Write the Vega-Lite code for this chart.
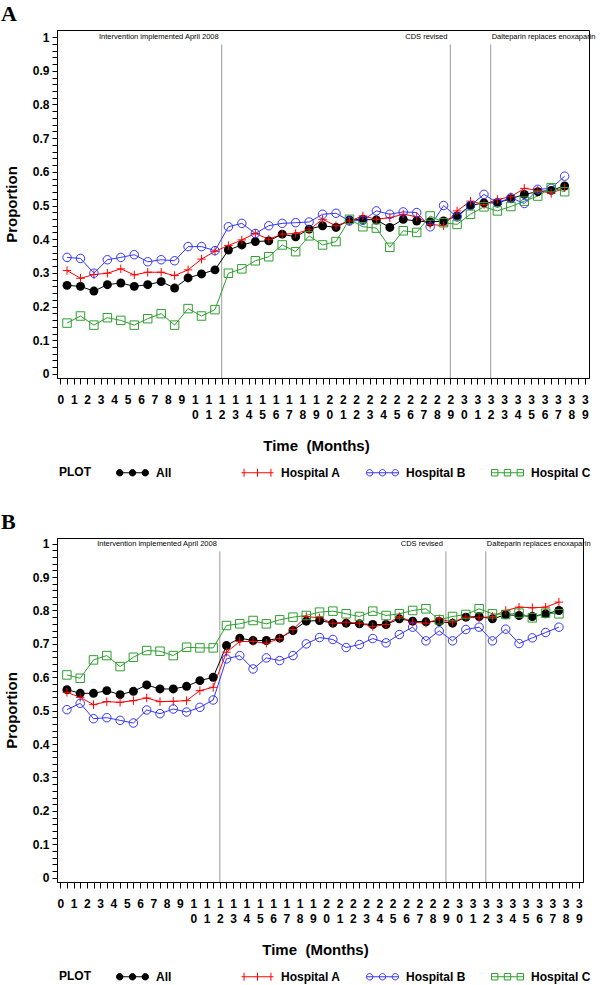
{
  "$schema": "https://vega.github.io/schema/vega-lite/v6.json",
  "background": "white",
  "padding": {"left": 0, "top": 2, "right": 0, "bottom": 0},
  "spacing": 30,
  "config": {
    "view": {"stroke": "black", "strokeWidth": 1},
    "font": "Liberation Sans, Arial, Helvetica, sans-serif",
    "text": {"font": "Liberation Sans, Arial, Helvetica, sans-serif"},
    "axis": {"domainColor": "black", "tickColor": "black", "labelColor": "black", "titleColor": "black", "labelFont": "Liberation Sans, Arial, Helvetica, sans-serif", "titleFont": "Liberation Sans, Arial, Helvetica, sans-serif", "labelFontWeight": "bold", "titleFontWeight": "bold", "labelFontSize": 12, "titleFontSize": 15, "grid": false, "labelOverlap": false, "labelFlush": false, "labelBound": false},
    "legend": {"labelFont": "Liberation Sans, Arial, Helvetica, sans-serif", "titleFont": "Liberation Sans, Arial, Helvetica, sans-serif"}
  },
  "resolve": {"scale": {"x": "independent", "y": "independent", "color": "independent", "shape": "independent"}, "legend": {"color": "independent", "shape": "independent"}},
  "datasets": {
    "events": [
      {"month": 12, "event": "Intervention implemented April 2008"},
      {"month": 29, "event": "CDS revised"},
      {"month": 32, "event": "Dalteparin replaces enoxaparin"}
    ],
    "a": [
      {"series":"All","month":0.5,"proportion":0.263},{"series":"All","month":1.5,"proportion":0.260},{"series":"All","month":2.5,"proportion":0.246},{"series":"All","month":3.5,"proportion":0.265},{"series":"All","month":4.5,"proportion":0.270},{"series":"All","month":5.5,"proportion":0.260},{"series":"All","month":6.5,"proportion":0.265},{"series":"All","month":7.5,"proportion":0.274},{"series":"All","month":8.5,"proportion":0.255},{"series":"All","month":9.5,"proportion":0.285},{"series":"All","month":10.5,"proportion":0.297},{"series":"All","month":11.5,"proportion":0.309},{"series":"All","month":12.5,"proportion":0.368},{"series":"All","month":13.5,"proportion":0.383},{"series":"All","month":14.5,"proportion":0.393},{"series":"All","month":15.5,"proportion":0.395},{"series":"All","month":16.5,"proportion":0.415},{"series":"All","month":17.5,"proportion":0.407},{"series":"All","month":18.5,"proportion":0.430},{"series":"All","month":19.5,"proportion":0.440},{"series":"All","month":20.5,"proportion":0.435},{"series":"All","month":21.5,"proportion":0.457},{"series":"All","month":22.5,"proportion":0.459},{"series":"All","month":23.5,"proportion":0.457},{"series":"All","month":24.5,"proportion":0.435},{"series":"All","month":25.5,"proportion":0.459},{"series":"All","month":26.5,"proportion":0.454},{"series":"All","month":27.5,"proportion":0.451},{"series":"All","month":28.5,"proportion":0.454},{"series":"All","month":29.5,"proportion":0.469},{"series":"All","month":30.5,"proportion":0.500},{"series":"All","month":31.5,"proportion":0.508},{"series":"All","month":32.5,"proportion":0.508},{"series":"All","month":33.5,"proportion":0.520},{"series":"All","month":34.5,"proportion":0.533},{"series":"All","month":35.5,"proportion":0.541},{"series":"All","month":36.5,"proportion":0.545},{"series":"All","month":37.5,"proportion":0.558},
      {"series":"Hospital A","month":0.5,"proportion":0.307},{"series":"Hospital A","month":1.5,"proportion":0.284},{"series":"Hospital A","month":2.5,"proportion":0.295},{"series":"Hospital A","month":3.5,"proportion":0.299},{"series":"Hospital A","month":4.5,"proportion":0.312},{"series":"Hospital A","month":5.5,"proportion":0.294},{"series":"Hospital A","month":6.5,"proportion":0.302},{"series":"Hospital A","month":7.5,"proportion":0.302},{"series":"Hospital A","month":8.5,"proportion":0.292},{"series":"Hospital A","month":9.5,"proportion":0.309},{"series":"Hospital A","month":10.5,"proportion":0.341},{"series":"Hospital A","month":11.5,"proportion":0.364},{"series":"Hospital A","month":12.5,"proportion":0.381},{"series":"Hospital A","month":13.5,"proportion":0.398},{"series":"Hospital A","month":14.5,"proportion":0.417},{"series":"Hospital A","month":15.5,"proportion":0.400},{"series":"Hospital A","month":16.5,"proportion":0.415},{"series":"Hospital A","month":17.5,"proportion":0.417},{"series":"Hospital A","month":18.5,"proportion":0.428},{"series":"Hospital A","month":19.5,"proportion":0.459},{"series":"Hospital A","month":20.5,"proportion":0.440},{"series":"Hospital A","month":21.5,"proportion":0.454},{"series":"Hospital A","month":22.5,"proportion":0.469},{"series":"Hospital A","month":23.5,"proportion":0.459},{"series":"Hospital A","month":24.5,"proportion":0.464},{"series":"Hospital A","month":25.5,"proportion":0.474},{"series":"Hospital A","month":26.5,"proportion":0.467},{"series":"Hospital A","month":27.5,"proportion":0.444},{"series":"Hospital A","month":28.5,"proportion":0.440},{"series":"Hospital A","month":29.5,"proportion":0.484},{"series":"Hospital A","month":30.5,"proportion":0.513},{"series":"Hospital A","month":31.5,"proportion":0.503},{"series":"Hospital A","month":32.5,"proportion":0.518},{"series":"Hospital A","month":33.5,"proportion":0.526},{"series":"Hospital A","month":34.5,"proportion":0.551},{"series":"Hospital A","month":35.5,"proportion":0.545},{"series":"Hospital A","month":36.5,"proportion":0.536},{"series":"Hospital A","month":37.5,"proportion":0.553},
      {"series":"Hospital B","month":0.5,"proportion":0.346},{"series":"Hospital B","month":1.5,"proportion":0.343},{"series":"Hospital B","month":2.5,"proportion":0.299},{"series":"Hospital B","month":3.5,"proportion":0.339},{"series":"Hospital B","month":4.5,"proportion":0.346},{"series":"Hospital B","month":5.5,"proportion":0.354},{"series":"Hospital B","month":6.5,"proportion":0.333},{"series":"Hospital B","month":7.5,"proportion":0.339},{"series":"Hospital B","month":8.5,"proportion":0.336},{"series":"Hospital B","month":9.5,"proportion":0.378},{"series":"Hospital B","month":10.5,"proportion":0.378},{"series":"Hospital B","month":11.5,"proportion":0.366},{"series":"Hospital B","month":12.5,"proportion":0.437},{"series":"Hospital B","month":13.5,"proportion":0.447},{"series":"Hospital B","month":14.5,"proportion":0.417},{"series":"Hospital B","month":15.5,"proportion":0.440},{"series":"Hospital B","month":16.5,"proportion":0.447},{"series":"Hospital B","month":17.5,"proportion":0.449},{"series":"Hospital B","month":18.5,"proportion":0.451},{"series":"Hospital B","month":19.5,"proportion":0.474},{"series":"Hospital B","month":20.5,"proportion":0.477},{"series":"Hospital B","month":21.5,"proportion":0.454},{"series":"Hospital B","month":22.5,"proportion":0.456},{"series":"Hospital B","month":23.5,"proportion":0.484},{"series":"Hospital B","month":24.5,"proportion":0.474},{"series":"Hospital B","month":25.5,"proportion":0.481},{"series":"Hospital B","month":26.5,"proportion":0.479},{"series":"Hospital B","month":27.5,"proportion":0.437},{"series":"Hospital B","month":28.5,"proportion":0.500},{"series":"Hospital B","month":29.5,"proportion":0.466},{"series":"Hospital B","month":30.5,"proportion":0.500},{"series":"Hospital B","month":31.5,"proportion":0.533},{"series":"Hospital B","month":32.5,"proportion":0.508},{"series":"Hospital B","month":33.5,"proportion":0.523},{"series":"Hospital B","month":34.5,"proportion":0.506},{"series":"Hospital B","month":35.5,"proportion":0.548},{"series":"Hospital B","month":36.5,"proportion":0.551},{"series":"Hospital B","month":37.5,"proportion":0.587},
      {"series":"Hospital C","month":0.5,"proportion":0.151},{"series":"Hospital C","month":1.5,"proportion":0.172},{"series":"Hospital C","month":2.5,"proportion":0.145},{"series":"Hospital C","month":3.5,"proportion":0.167},{"series":"Hospital C","month":4.5,"proportion":0.159},{"series":"Hospital C","month":5.5,"proportion":0.145},{"series":"Hospital C","month":6.5,"proportion":0.164},{"series":"Hospital C","month":7.5,"proportion":0.179},{"series":"Hospital C","month":8.5,"proportion":0.145},{"series":"Hospital C","month":9.5,"proportion":0.194},{"series":"Hospital C","month":10.5,"proportion":0.172},{"series":"Hospital C","month":11.5,"proportion":0.191},{"series":"Hospital C","month":12.5,"proportion":0.299},{"series":"Hospital C","month":13.5,"proportion":0.312},{"series":"Hospital C","month":14.5,"proportion":0.336},{"series":"Hospital C","month":15.5,"proportion":0.348},{"series":"Hospital C","month":16.5,"proportion":0.383},{"series":"Hospital C","month":17.5,"proportion":0.363},{"series":"Hospital C","month":18.5,"proportion":0.410},{"series":"Hospital C","month":19.5,"proportion":0.383},{"series":"Hospital C","month":20.5,"proportion":0.393},{"series":"Hospital C","month":21.5,"proportion":0.459},{"series":"Hospital C","month":22.5,"proportion":0.437},{"series":"Hospital C","month":23.5,"proportion":0.433},{"series":"Hospital C","month":24.5,"proportion":0.376},{"series":"Hospital C","month":25.5,"proportion":0.425},{"series":"Hospital C","month":26.5,"proportion":0.420},{"series":"Hospital C","month":27.5,"proportion":0.469},{"series":"Hospital C","month":28.5,"proportion":0.449},{"series":"Hospital C","month":29.5,"proportion":0.444},{"series":"Hospital C","month":30.5,"proportion":0.474},{"series":"Hospital C","month":31.5,"proportion":0.496},{"series":"Hospital C","month":32.5,"proportion":0.484},{"series":"Hospital C","month":33.5,"proportion":0.497},{"series":"Hospital C","month":34.5,"proportion":0.513},{"series":"Hospital C","month":35.5,"proportion":0.528},{"series":"Hospital C","month":36.5,"proportion":0.553},{"series":"Hospital C","month":37.5,"proportion":0.541}
    ],
    "b": [
      {"series":"All","month":0.5,"proportion":0.563},{"series":"All","month":1.5,"proportion":0.552},{"series":"All","month":2.5,"proportion":0.552},{"series":"All","month":3.5,"proportion":0.560},{"series":"All","month":4.5,"proportion":0.548},{"series":"All","month":5.5,"proportion":0.558},{"series":"All","month":6.5,"proportion":0.577},{"series":"All","month":7.5,"proportion":0.565},{"series":"All","month":8.5,"proportion":0.565},{"series":"All","month":9.5,"proportion":0.573},{"series":"All","month":10.5,"proportion":0.590},{"series":"All","month":11.5,"proportion":0.600},{"series":"All","month":12.5,"proportion":0.695},{"series":"All","month":13.5,"proportion":0.717},{"series":"All","month":14.5,"proportion":0.710},{"series":"All","month":15.5,"proportion":0.710},{"series":"All","month":16.5,"proportion":0.717},{"series":"All","month":17.5,"proportion":0.740},{"series":"All","month":18.5,"proportion":0.768},{"series":"All","month":19.5,"proportion":0.770},{"series":"All","month":20.5,"proportion":0.762},{"series":"All","month":21.5,"proportion":0.762},{"series":"All","month":22.5,"proportion":0.760},{"series":"All","month":23.5,"proportion":0.758},{"series":"All","month":24.5,"proportion":0.758},{"series":"All","month":25.5,"proportion":0.775},{"series":"All","month":26.5,"proportion":0.768},{"series":"All","month":27.5,"proportion":0.766},{"series":"All","month":28.5,"proportion":0.767},{"series":"All","month":29.5,"proportion":0.762},{"series":"All","month":30.5,"proportion":0.780},{"series":"All","month":31.5,"proportion":0.782},{"series":"All","month":32.5,"proportion":0.775},{"series":"All","month":33.5,"proportion":0.787},{"series":"All","month":34.5,"proportion":0.785},{"series":"All","month":35.5,"proportion":0.782},{"series":"All","month":36.5,"proportion":0.790},{"series":"All","month":37.5,"proportion":0.800},
      {"series":"Hospital A","month":0.5,"proportion":0.555},{"series":"Hospital A","month":1.5,"proportion":0.540},{"series":"Hospital A","month":2.5,"proportion":0.518},{"series":"Hospital A","month":3.5,"proportion":0.527},{"series":"Hospital A","month":4.5,"proportion":0.525},{"series":"Hospital A","month":5.5,"proportion":0.530},{"series":"Hospital A","month":6.5,"proportion":0.538},{"series":"Hospital A","month":7.5,"proportion":0.527},{"series":"Hospital A","month":8.5,"proportion":0.528},{"series":"Hospital A","month":9.5,"proportion":0.530},{"series":"Hospital A","month":10.5,"proportion":0.560},{"series":"Hospital A","month":11.5,"proportion":0.570},{"series":"Hospital A","month":12.5,"proportion":0.675},{"series":"Hospital A","month":13.5,"proportion":0.707},{"series":"Hospital A","month":14.5,"proportion":0.707},{"series":"Hospital A","month":15.5,"proportion":0.702},{"series":"Hospital A","month":16.5,"proportion":0.716},{"series":"Hospital A","month":17.5,"proportion":0.743},{"series":"Hospital A","month":18.5,"proportion":0.782},{"series":"Hospital A","month":19.5,"proportion":0.778},{"series":"Hospital A","month":20.5,"proportion":0.762},{"series":"Hospital A","month":21.5,"proportion":0.765},{"series":"Hospital A","month":22.5,"proportion":0.762},{"series":"Hospital A","month":23.5,"proportion":0.752},{"series":"Hospital A","month":24.5,"proportion":0.758},{"series":"Hospital A","month":25.5,"proportion":0.782},{"series":"Hospital A","month":26.5,"proportion":0.765},{"series":"Hospital A","month":27.5,"proportion":0.762},{"series":"Hospital A","month":28.5,"proportion":0.775},{"series":"Hospital A","month":29.5,"proportion":0.765},{"series":"Hospital A","month":30.5,"proportion":0.780},{"series":"Hospital A","month":31.5,"proportion":0.778},{"series":"Hospital A","month":32.5,"proportion":0.782},{"series":"Hospital A","month":33.5,"proportion":0.800},{"series":"Hospital A","month":34.5,"proportion":0.810},{"series":"Hospital A","month":35.5,"proportion":0.808},{"series":"Hospital A","month":36.5,"proportion":0.810},{"series":"Hospital A","month":37.5,"proportion":0.825},
      {"series":"Hospital B","month":0.5,"proportion":0.503},{"series":"Hospital B","month":1.5,"proportion":0.522},{"series":"Hospital B","month":2.5,"proportion":0.476},{"series":"Hospital B","month":3.5,"proportion":0.479},{"series":"Hospital B","month":4.5,"proportion":0.471},{"series":"Hospital B","month":5.5,"proportion":0.463},{"series":"Hospital B","month":6.5,"proportion":0.502},{"series":"Hospital B","month":7.5,"proportion":0.491},{"series":"Hospital B","month":8.5,"proportion":0.505},{"series":"Hospital B","month":9.5,"proportion":0.496},{"series":"Hospital B","month":10.5,"proportion":0.510},{"series":"Hospital B","month":11.5,"proportion":0.532},{"series":"Hospital B","month":12.5,"proportion":0.655},{"series":"Hospital B","month":13.5,"proportion":0.665},{"series":"Hospital B","month":14.5,"proportion":0.625},{"series":"Hospital B","month":15.5,"proportion":0.658},{"series":"Hospital B","month":16.5,"proportion":0.650},{"series":"Hospital B","month":17.5,"proportion":0.665},{"series":"Hospital B","month":18.5,"proportion":0.700},{"series":"Hospital B","month":19.5,"proportion":0.719},{"series":"Hospital B","month":20.5,"proportion":0.713},{"series":"Hospital B","month":21.5,"proportion":0.689},{"series":"Hospital B","month":22.5,"proportion":0.698},{"series":"Hospital B","month":23.5,"proportion":0.716},{"series":"Hospital B","month":24.5,"proportion":0.703},{"series":"Hospital B","month":25.5,"proportion":0.728},{"series":"Hospital B","month":26.5,"proportion":0.750},{"series":"Hospital B","month":27.5,"proportion":0.709},{"series":"Hospital B","month":28.5,"proportion":0.739},{"series":"Hospital B","month":29.5,"proportion":0.709},{"series":"Hospital B","month":30.5,"proportion":0.743},{"series":"Hospital B","month":31.5,"proportion":0.750},{"series":"Hospital B","month":32.5,"proportion":0.709},{"series":"Hospital B","month":33.5,"proportion":0.744},{"series":"Hospital B","month":34.5,"proportion":0.701},{"series":"Hospital B","month":35.5,"proportion":0.718},{"series":"Hospital B","month":36.5,"proportion":0.734},{"series":"Hospital B","month":37.5,"proportion":0.750},
      {"series":"Hospital C","month":0.5,"proportion":0.607},{"series":"Hospital C","month":1.5,"proportion":0.597},{"series":"Hospital C","month":2.5,"proportion":0.652},{"series":"Hospital C","month":3.5,"proportion":0.665},{"series":"Hospital C","month":4.5,"proportion":0.632},{"series":"Hospital C","month":5.5,"proportion":0.660},{"series":"Hospital C","month":6.5,"proportion":0.680},{"series":"Hospital C","month":7.5,"proportion":0.678},{"series":"Hospital C","month":8.5,"proportion":0.665},{"series":"Hospital C","month":9.5,"proportion":0.690},{"series":"Hospital C","month":10.5,"proportion":0.688},{"series":"Hospital C","month":11.5,"proportion":0.688},{"series":"Hospital C","month":12.5,"proportion":0.755},{"series":"Hospital C","month":13.5,"proportion":0.760},{"series":"Hospital C","month":14.5,"proportion":0.770},{"series":"Hospital C","month":15.5,"proportion":0.760},{"series":"Hospital C","month":16.5,"proportion":0.772},{"series":"Hospital C","month":17.5,"proportion":0.780},{"series":"Hospital C","month":18.5,"proportion":0.785},{"series":"Hospital C","month":19.5,"proportion":0.795},{"series":"Hospital C","month":20.5,"proportion":0.798},{"series":"Hospital C","month":21.5,"proportion":0.790},{"series":"Hospital C","month":22.5,"proportion":0.782},{"series":"Hospital C","month":23.5,"proportion":0.798},{"series":"Hospital C","month":24.5,"proportion":0.785},{"series":"Hospital C","month":25.5,"proportion":0.790},{"series":"Hospital C","month":26.5,"proportion":0.800},{"series":"Hospital C","month":27.5,"proportion":0.805},{"series":"Hospital C","month":28.5,"proportion":0.772},{"series":"Hospital C","month":29.5,"proportion":0.782},{"series":"Hospital C","month":30.5,"proportion":0.788},{"series":"Hospital C","month":31.5,"proportion":0.805},{"series":"Hospital C","month":32.5,"proportion":0.790},{"series":"Hospital C","month":33.5,"proportion":0.788},{"series":"Hospital C","month":34.5,"proportion":0.792},{"series":"Hospital C","month":35.5,"proportion":0.778},{"series":"Hospital C","month":36.5,"proportion":0.792},{"series":"Hospital C","month":37.5,"proportion":0.790}
    ]
  },
  "vconcat": [
    {
      "width": 532, "height": 348,
      "title": {"text": "A", "anchor": "start", "frame": "group", "dx": -56, "offset": -6, "baseline": "middle", "font": "Liberation Serif, Times New Roman, serif", "fontSize": 22, "fontWeight": "bold", "color": "black"},
      "layer": [
        {
          "data": {"name": "events"},
          "mark": {"type": "rule", "color": "#9a9a9a", "strokeWidth": 1},
          "encoding": {
            "x": {"field": "month", "type": "quantitative", "scale": {"domain": [-0.245, 39.31], "nice": false, "zero": false},
              "axis": {"title": "Time \u00a0(Months)", "titleX": 259, "titleY": 67, "titleBaseline": "middle", "titleAlign": "center", "labelOverlap": false, "labelFlush": false, "labelBound": false, "tickCount": 500,
                "values": [0,0.5,1,1.5,2,2.5,3,3.5,4,4.5,5,5.5,6,6.5,7,7.5,8,8.5,9,9.5,10,10.5,11,11.5,12,12.5,13,13.5,14,14.5,15,15.5,16,16.5,17,17.5,18,18.5,19,19.5,20,20.5,21,21.5,22,22.5,23,23.5,24,24.5,25,25.5,26,26.5,27,27.5,28,28.5,29,29.5,30,30.5,31,31.5,32,32.5,33,33.5,34,34.5,35,35.5,36,36.5,37,37.5,38,38.5,39],
                "tickSize": 6, "labelPadding": 10, "labelBaseline": "top", "labelLineHeight": 15,
                "labelExpr": "datum.value % 1 !== 0 ? '' : (datum.value < 10 ? format(datum.value, 'd') : [format(floor(datum.value / 10), 'd'), format(datum.value % 10, 'd')])",
                "encode": {"ticks": {"update": {"y2": {"signal": "datum.value % 1 === 0 ? 6 : 3"}}}}}},
            "y": {"datum": 0.978, "type": "quantitative", "scale": {"domain": [-0.012, 1.021], "nice": false, "zero": false},
              "axis": {"title": "Proportion", "titleX": -45.5, "titleY": 174, "titleBaseline": "middle", "titleAlign": "center", "titleAngle": -90, "labelOverlap": false, "labelFlush": false, "labelBound": false, "tickCount": 500,
                "values": [0,0.02,0.04,0.06,0.08,0.1,0.12,0.14,0.16,0.18,0.2,0.22,0.24,0.26,0.28,0.3,0.32,0.34,0.36,0.38,0.4,0.42,0.44,0.46,0.48,0.5,0.52,0.54,0.56,0.58,0.6,0.62,0.64,0.66,0.68,0.7,0.72,0.74,0.76,0.78,0.8,0.82,0.84,0.86,0.88,0.9,0.92,0.94,0.96,0.98,1],
                "tickSize": 5, "labelPadding": 3,
                "labelExpr": "round(datum.value * 50) % 5 === 0 ? format(datum.value, '~g') : ''",
                "encode": {"ticks": {"update": {"x2": {"signal": "round(datum.value * 50) % 5 === 0 ? -5 : -3"}}}}}},
            "y2": {"datum": -0.012}
          }
        },
        {
          "data": {"name": "events"},
          "transform": [{"filter": "datum.event !== 'Dalteparin replaces enoxaparin'"}],
          "mark": {"type": "text", "align": "right", "baseline": "middle", "dx": -3, "fontSize": 7.5, "fill": "black"},
          "encoding": {"x": {"field": "month", "type": "quantitative"}, "y": {"datum": 1}, "text": {"field": "event"}}
        },
        {
          "data": {"name": "events"},
          "transform": [{"filter": "datum.event === 'Dalteparin replaces enoxaparin'"}],
          "mark": {"type": "text", "align": "left", "baseline": "middle", "dx": 1, "fontSize": 7.5, "fill": "black"},
          "encoding": {"x": {"field": "month", "type": "quantitative"}, "y": {"datum": 1}, "text": {"field": "event"}}
        },
        {
          "data": {"name": "a"},
          "mark": {"type": "line", "strokeWidth": 1},
          "encoding": {
            "x": {"field": "month", "type": "quantitative"},
            "y": {"field": "proportion", "type": "quantitative"},
            "color": {"field": "series", "type": "nominal",
              "scale": {"domain": ["All", "Hospital A", "Hospital B", "Hospital C"], "range": ["black", "#ff0000", "#3535ff", "#2f9e2f"]},
              "legend": {"orient": "none", "legendX": 2, "legendY": 426, "direction": "horizontal", "title": "PLOT", "titleOrient": "left", "titleAnchor": "middle", "titleBaseline": "top", "titleFontSize": 12, "titleFontWeight": "bold", "titleColor": "black", "titlePadding": 25,
                "labelFontSize": 12, "labelFontWeight": "bold", "labelColor": "black", "labelOffset": 7, "labelLimit": 200, "symbolSize": 1024, "columnPadding": 23, "gridAlign": "all",
                "encode": {"symbols": {"update": {
                  "shape": {"signal": "datum.value === 'All' ? 'M-0.8,0H0.8M-0.6,0A0.2,0.2,0,1,1,-1,0A0.2,0.2,0,1,1,-0.6,0ZM0.2,0A0.2,0.2,0,1,1,-0.2,0A0.2,0.2,0,1,1,0.2,0ZM1,0A0.2,0.2,0,1,1,0.6,0A0.2,0.2,0,1,1,1,0Z' : datum.value === 'Hospital A' ? 'M-1,0H1M-0.84,-0.25V0.25M0,-0.25V0.25M0.84,-0.25V0.25' : datum.value === 'Hospital B' ? 'M-1,0H1M-0.6,0A0.2,0.2,0,1,1,-1,0A0.2,0.2,0,1,1,-0.6,0ZM0.2,0A0.2,0.2,0,1,1,-0.2,0A0.2,0.2,0,1,1,0.2,0ZM1,0A0.2,0.2,0,1,1,0.6,0A0.2,0.2,0,1,1,1,0Z' : 'M-1,0H1M-1,-0.2H-0.6V0.2H-1ZM-0.2,-0.2H0.2V0.2H-0.2ZM0.6,-0.2H1V0.2H0.6Z'"},
                  "fill": {"signal": "datum.value === 'All' ? 'black' : 'white'"},
                  "fillOpacity": {"signal": "datum.value === 'All' ? 1 : 0"},
                  "stroke": {"signal": "datum.value === 'All' ? 'black' : datum.value === 'Hospital A' ? '#ff0000' : datum.value === 'Hospital B' ? '#3535ff' : '#2f9e2f'"},
                  "strokeWidth": {"value": 1},
                  "size": {"value": 1024},
                  "opacity": {"value": 1}
                }}}}
            }
          }
        },
        {
          "data": {"name": "a"},
          "transform": [{"filter": "datum.series === 'All'"}],
          "mark": {"type": "point", "shape": "circle", "filled": true, "size": 80, "opacity": 1},
          "encoding": {"x": {"field": "month", "type": "quantitative"}, "y": {"field": "proportion", "type": "quantitative"}, "color": {"field": "series", "type": "nominal"}}
        },
        {
          "data": {"name": "a"},
          "transform": [{"filter": "datum.series !== 'All'"}],
          "mark": {"type": "point", "filled": false, "size": 72, "strokeWidth": 1, "opacity": 1},
          "encoding": {"x": {"field": "month", "type": "quantitative"}, "y": {"field": "proportion", "type": "quantitative"}, "color": {"field": "series", "type": "nominal"},
            "shape": {"field": "series", "type": "nominal", "scale": {"domain": ["Hospital A", "Hospital B", "Hospital C"], "range": ["M-1,0H1M0,-1V1", "circle", "square"]}, "legend": null}}
        }
      ]
    },
    {
      "width": 526, "height": 344,
      "title": {"text": "B", "anchor": "start", "frame": "group", "dx": -56, "offset": -6, "baseline": "middle", "font": "Liberation Serif, Times New Roman, serif", "fontSize": 22, "fontWeight": "bold", "color": "black"},
      "layer": [
        {
          "data": {"name": "events"},
          "mark": {"type": "rule", "color": "#9a9a9a", "strokeWidth": 1},
          "encoding": {
            "x": {"field": "month", "type": "quantitative", "scale": {"domain": [-0.245, 39.31], "nice": false, "zero": false},
              "axis": {"title": "Time \u00a0(Months)", "titleX": 258, "titleY": 67, "titleBaseline": "middle", "titleAlign": "center", "labelOverlap": false, "labelFlush": false, "labelBound": false, "tickCount": 500,
                "values": [0,0.5,1,1.5,2,2.5,3,3.5,4,4.5,5,5.5,6,6.5,7,7.5,8,8.5,9,9.5,10,10.5,11,11.5,12,12.5,13,13.5,14,14.5,15,15.5,16,16.5,17,17.5,18,18.5,19,19.5,20,20.5,21,21.5,22,22.5,23,23.5,24,24.5,25,25.5,26,26.5,27,27.5,28,28.5,29,29.5,30,30.5,31,31.5,32,32.5,33,33.5,34,34.5,35,35.5,36,36.5,37,37.5,38,38.5,39],
                "tickSize": 6, "labelPadding": 10, "labelBaseline": "top", "labelLineHeight": 15,
                "labelExpr": "datum.value % 1 !== 0 ? '' : (datum.value < 10 ? format(datum.value, 'd') : [format(floor(datum.value / 10), 'd'), format(datum.value % 10, 'd')])",
                "encode": {"ticks": {"update": {"y2": {"signal": "datum.value % 1 === 0 ? 6 : 3"}}}}}},
            "y": {"datum": 0.977, "type": "quantitative", "scale": {"domain": [-0.013, 1.017], "nice": false, "zero": false},
              "axis": {"title": "Proportion", "titleX": -45.5, "titleY": 172, "titleBaseline": "middle", "titleAlign": "center", "titleAngle": -90, "labelOverlap": false, "labelFlush": false, "labelBound": false, "tickCount": 500,
                "values": [0,0.02,0.04,0.06,0.08,0.1,0.12,0.14,0.16,0.18,0.2,0.22,0.24,0.26,0.28,0.3,0.32,0.34,0.36,0.38,0.4,0.42,0.44,0.46,0.48,0.5,0.52,0.54,0.56,0.58,0.6,0.62,0.64,0.66,0.68,0.7,0.72,0.74,0.76,0.78,0.8,0.82,0.84,0.86,0.88,0.9,0.92,0.94,0.96,0.98,1],
                "tickSize": 5, "labelPadding": 3,
                "labelExpr": "round(datum.value * 50) % 5 === 0 ? format(datum.value, '~g') : ''",
                "encode": {"ticks": {"update": {"x2": {"signal": "round(datum.value * 50) % 5 === 0 ? -5 : -3"}}}}}},
            "y2": {"datum": -0.013}
          }
        },
        {
          "data": {"name": "events"},
          "transform": [{"filter": "datum.event !== 'Dalteparin replaces enoxaparin'"}],
          "mark": {"type": "text", "align": "right", "baseline": "middle", "dx": -3, "fontSize": 7.5, "fill": "black"},
          "encoding": {"x": {"field": "month", "type": "quantitative"}, "y": {"datum": 1}, "text": {"field": "event"}}
        },
        {
          "data": {"name": "events"},
          "transform": [{"filter": "datum.event === 'Dalteparin replaces enoxaparin'"}],
          "mark": {"type": "text", "align": "left", "baseline": "middle", "dx": 1, "fontSize": 7.5, "fill": "black"},
          "encoding": {"x": {"field": "month", "type": "quantitative"}, "y": {"datum": 1}, "text": {"field": "event"}}
        },
        {
          "data": {"name": "b"},
          "mark": {"type": "line", "strokeWidth": 1},
          "encoding": {
            "x": {"field": "month", "type": "quantitative"},
            "y": {"field": "proportion", "type": "quantitative"},
            "color": {"field": "series", "type": "nominal",
              "scale": {"domain": ["All", "Hospital A", "Hospital B", "Hospital C"], "range": ["black", "#ff0000", "#3535ff", "#2f9e2f"]},
              "legend": {"orient": "none", "legendX": 2, "legendY": 422, "direction": "horizontal", "title": "PLOT", "titleOrient": "left", "titleAnchor": "middle", "titleBaseline": "top", "titleFontSize": 12, "titleFontWeight": "bold", "titleColor": "black", "titlePadding": 25,
                "labelFontSize": 12, "labelFontWeight": "bold", "labelColor": "black", "labelOffset": 7, "labelLimit": 200, "symbolSize": 1024, "columnPadding": 23, "gridAlign": "all",
                "encode": {"symbols": {"update": {
                  "shape": {"signal": "datum.value === 'All' ? 'M-0.8,0H0.8M-0.6,0A0.2,0.2,0,1,1,-1,0A0.2,0.2,0,1,1,-0.6,0ZM0.2,0A0.2,0.2,0,1,1,-0.2,0A0.2,0.2,0,1,1,0.2,0ZM1,0A0.2,0.2,0,1,1,0.6,0A0.2,0.2,0,1,1,1,0Z' : datum.value === 'Hospital A' ? 'M-1,0H1M-0.84,-0.25V0.25M0,-0.25V0.25M0.84,-0.25V0.25' : datum.value === 'Hospital B' ? 'M-1,0H1M-0.6,0A0.2,0.2,0,1,1,-1,0A0.2,0.2,0,1,1,-0.6,0ZM0.2,0A0.2,0.2,0,1,1,-0.2,0A0.2,0.2,0,1,1,0.2,0ZM1,0A0.2,0.2,0,1,1,0.6,0A0.2,0.2,0,1,1,1,0Z' : 'M-1,0H1M-1,-0.2H-0.6V0.2H-1ZM-0.2,-0.2H0.2V0.2H-0.2ZM0.6,-0.2H1V0.2H0.6Z'"},
                  "fill": {"signal": "datum.value === 'All' ? 'black' : 'white'"},
                  "fillOpacity": {"signal": "datum.value === 'All' ? 1 : 0"},
                  "stroke": {"signal": "datum.value === 'All' ? 'black' : datum.value === 'Hospital A' ? '#ff0000' : datum.value === 'Hospital B' ? '#3535ff' : '#2f9e2f'"},
                  "strokeWidth": {"value": 1},
                  "size": {"value": 1024},
                  "opacity": {"value": 1}
                }}}}
            }
          }
        },
        {
          "data": {"name": "b"},
          "transform": [{"filter": "datum.series === 'All'"}],
          "mark": {"type": "point", "shape": "circle", "filled": true, "size": 80, "opacity": 1},
          "encoding": {"x": {"field": "month", "type": "quantitative"}, "y": {"field": "proportion", "type": "quantitative"}, "color": {"field": "series", "type": "nominal"}}
        },
        {
          "data": {"name": "b"},
          "transform": [{"filter": "datum.series !== 'All'"}],
          "mark": {"type": "point", "filled": false, "size": 72, "strokeWidth": 1, "opacity": 1},
          "encoding": {"x": {"field": "month", "type": "quantitative"}, "y": {"field": "proportion", "type": "quantitative"}, "color": {"field": "series", "type": "nominal"},
            "shape": {"field": "series", "type": "nominal", "scale": {"domain": ["Hospital A", "Hospital B", "Hospital C"], "range": ["M-1,0H1M0,-1V1", "circle", "square"]}, "legend": null}}
        }
      ]
    }
  ]
}
